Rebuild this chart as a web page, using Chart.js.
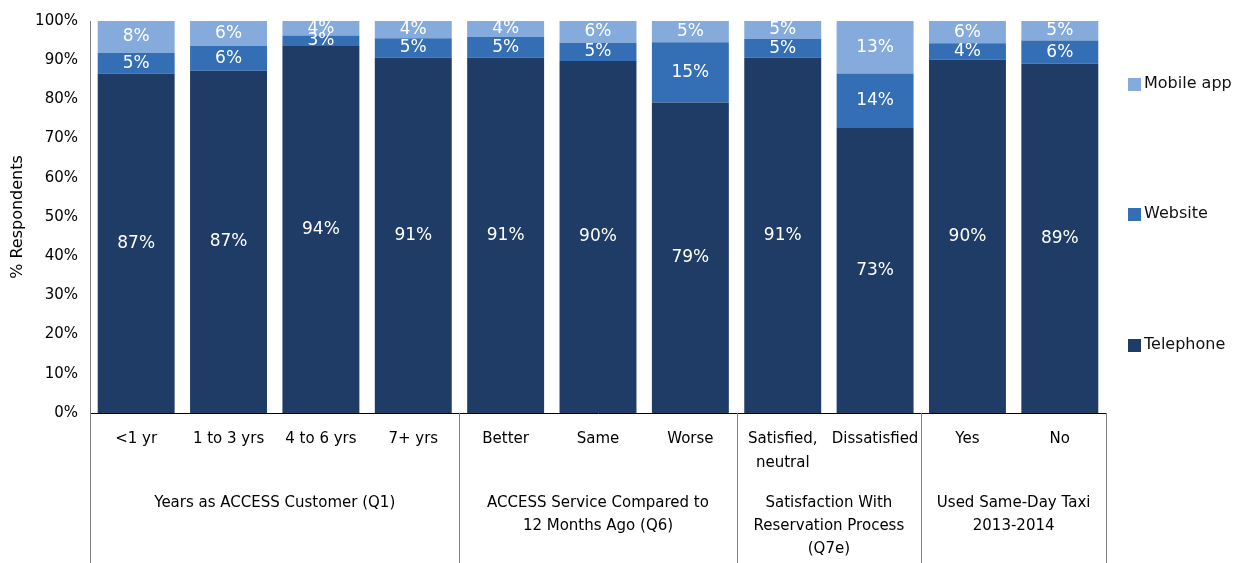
<!DOCTYPE html>
<html>
<head>
<meta charset="utf-8">
<title>Reservation method by respondent group</title>
<script src="https://cdn.jsdelivr.net/npm/chart.js@4.4.1/dist/chart.umd.min.js"></script>
<style>
  body { margin: 0; background: #fff; }
  #wrap { position: relative; width: 1249px; height: 563px; }
</style>
</head>
<body>
<div id="wrap"><canvas id="chart"></canvas></div>
<script>
// Chart data
const categories = [
    '<1 yr', '1 to 3 yrs', '4 to 6 yrs', '7+ yrs',
    'Better', 'Same', 'Worse',
    ['Satisfied,', 'neutral'], 'Dissatisfied',
    'Yes', 'No'
];
const groupNames = [
    ['Years as ACCESS Customer (Q1)'],
    ['ACCESS Service Compared to', '12 Months Ago (Q6)'],
    ['Satisfaction With', 'Reservation Process', '(Q7e)'],
    ['Used Same-Day Taxi', '2013-2014']
];
const groupSizes = [4, 3, 2, 2];

const telephone = [86.6, 87.3, 93.6, 90.6, 90.6, 89.8, 79.2, 90.6, 72.7, 90.1, 89.1];
const website   = [5.3, 6.4, 2.7, 5.0, 5.3, 4.6, 15.4, 4.8, 13.9, 4.2, 5.9];
const mobileApp = [8.1, 6.3, 3.7, 4.4, 4.1, 5.6, 5.4, 4.6, 13.4, 5.7, 5.0];

const yTicks = [0, 10, 20, 30, 40, 50, 60, 70, 80, 90, 100];

const FONT = '"DejaVu Sans", Verdana, sans-serif';
const colors = { telephone: '#1f3c66', website: '#346eb4', mobile: '#84abdc' };

// White percentage labels centred in each segment
const segmentLabels = {
    id: 'segmentLabels',
    afterDatasetsDraw(chart) {
        const ctx = chart.ctx;
        ctx.save();
        ctx.fillStyle = '#ffffff';
        ctx.font = '17px ' + FONT;
        ctx.textAlign = 'center';
        ctx.textBaseline = 'middle';
        chart.data.datasets.forEach((ds, i) => {
            chart.getDatasetMeta(i).data.forEach((bar, j) => {
                const p = bar.getProps(['x', 'y', 'base'], true);
                ctx.fillText(Math.round(ds.data[j]) + '%', p.x, (p.y + p.base) / 2);
            });
        });
        ctx.restore();
    }
};

// Group separators and group titles under the category labels
const groupAxis = {
    id: 'groupAxis',
    afterDraw(chart) {
        const ctx = chart.ctx;
        const xs = chart.scales.x;
        const area = chart.chartArea;
        const step = xs.getPixelForValue(1) - xs.getPixelForValue(0);
        ctx.save();
        ctx.strokeStyle = '#7f7f7f';
        ctx.lineWidth = 1;
        ctx.fillStyle = '#000';
        ctx.font = '15px ' + FONT;
        ctx.textAlign = 'center';
        ctx.textBaseline = 'middle';
        let start = 0;
        const edges = [];
        groupSizes.forEach((n, g) => {
            const left = xs.getPixelForValue(start) - step / 2;
            const right = xs.getPixelForValue(start + n - 1) + step / 2;
            edges.push(left);
            if (g === groupSizes.length - 1) edges.push(right);
            groupNames[g].forEach((line, k) => {
                ctx.fillText(line, (left + right) / 2, area.bottom + 90 + k * 23);
            });
            start += n;
        });
        edges.forEach(x => {
            const px = Math.round(x) + 0.5;
            ctx.beginPath();
            ctx.moveTo(px, area.bottom);
            ctx.lineTo(px, chart.height);
            ctx.stroke();
        });
        ctx.restore();
    }
};

// Legend spread down the right-hand side
const sideLegend = {
    id: 'sideLegend',
    afterDraw(chart) {
        const ctx = chart.ctx;
        const area = chart.chartArea;
        const items = [
            { label: 'Mobile app', color: colors.mobile, y: 84 },
            { label: 'Website', color: colors.website, y: 214 },
            { label: 'Telephone', color: colors.telephone, y: 345 }
        ];
        ctx.save();
        ctx.font = '16px ' + FONT;
        ctx.textBaseline = 'middle';
        ctx.textAlign = 'left';
        items.forEach(it => {
            ctx.fillStyle = it.color;
            ctx.fillRect(area.right + 22, it.y - 6, 13, 13);
            ctx.fillStyle = '#111';
            ctx.fillText(it.label, area.right + 38, it.y);
        });
        ctx.restore();
    }
};

new Chart(document.getElementById('chart'), {
    type: 'bar',
    data: {
        labels: categories,
        datasets: [
            { label: 'Telephone', data: telephone, backgroundColor: colors.telephone },
            { label: 'Website', data: website, backgroundColor: colors.website },
            { label: 'Mobile app', data: mobileApp, backgroundColor: colors.mobile }
        ]
    },
    options: {
        responsive: true,
        maintainAspectRatio: false,
        animation: false,
        layout: { padding: { top: 18, right: 143, left: 0, bottom: 0 } },
        datasets: { bar: { barPercentage: 0.833, categoryPercentage: 1.0 } },
        plugins: {
            legend: { display: false },
            tooltip: { enabled: false }
        },
        scales: {
            x: {
                stacked: true,
                grid: { display: false, drawTicks: false },
                border: { color: '#000', width: 1 },
                ticks: {
                    autoSkip: false,
                    maxRotation: 0,
                    padding: 14,
                    color: '#000',
                    font: { family: FONT, size: 15, lineHeight: 1.6 }
                },
                afterFit(scale) { scale.height = 150; }
            },
            y: {
                stacked: true,
                min: 0,
                max: 100,
                grid: { display: false, drawTicks: false },
                border: { color: '#7f7f7f', width: 1 },
                afterBuildTicks(scale) { scale.ticks = yTicks.map(v => ({ value: v })); },
                ticks: {
                    padding: 12,
                    color: '#000',
                    font: { family: FONT, size: 15 },
                    callback: v => v + '%'
                },
                title: {
                    display: true,
                    text: '% Respondents',
                    color: '#000',
                    padding: { top: 8, bottom: 0 },
                    font: { family: FONT, size: 16 }
                },
                afterFit(scale) { scale.width = 90; }
            }
        }
    },
    plugins: [segmentLabels, groupAxis, sideLegend]
});
</script>
</body>
</html>
